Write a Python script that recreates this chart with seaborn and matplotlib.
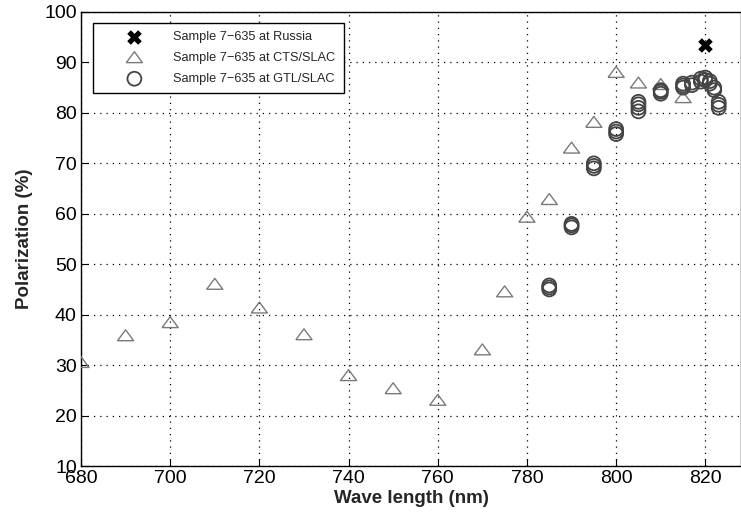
import seaborn as sns
import numpy as np
import pandas as pd
import matplotlib.pyplot as plt

russia_wl = [820]
russia_pol = [93.5]

cts_wl = [680, 690, 700, 710, 720, 730, 740, 750, 760, 770, 775, 780, 785, 790, 795, 800, 805, 810, 815]
cts_pol = [30.5, 35.8, 38.4, 46.0, 41.3, 36.0, 27.9, 25.3, 23.0, 33.0, 44.5, 59.3, 62.8, 73.0, 78.1, 88.0, 85.9, 85.6, 83.0]

gtl_wl = [785, 785, 785, 790, 790, 790, 795, 795, 795, 800, 800, 800,
          805, 805, 805, 805, 810, 810, 810, 815, 815, 815, 817, 817,
          819, 819, 820, 820, 821, 821, 822, 822, 823, 823, 823]
gtl_pol = [45.0, 45.4, 45.8, 57.3, 57.7, 58.0, 69.0, 69.5, 70.0, 75.8, 76.3, 76.8,
           80.3, 81.0, 81.7, 82.2, 83.8, 84.2, 84.5, 85.0, 85.4, 85.8, 85.5, 86.0,
           86.2, 86.8, 86.5, 87.0, 85.8, 86.3, 84.5, 85.0, 81.0, 81.6, 82.2]

xticks = list(range(680, 821, 20))
yticks = list(range(10, 101, 10))

sns.set_style('ticks')
plt.rcParams['font.family'] = ['Liberation Sans', 'DejaVu Sans']

fig = plt.figure(figsize=(7.41, 5.17), dpi=100)
ax = fig.add_axes([0.1093, 0.0986, 0.8907, 0.8782])

# flat open triangle, closed outline
tri = [(-1, -0.6), (1, -0.6), (0, 0.75), (-1, -0.6)]

sns.scatterplot(x=cts_wl, y=cts_pol, ax=ax, marker=tri, s=135, facecolor='none',
                edgecolor='#7a7a7a', linewidth=1.0, label='Sample 7\u2212635 at CTS/SLAC', zorder=3)
sns.scatterplot(x=gtl_wl, y=gtl_pol, ax=ax, marker='o', s=100, facecolor='none',
                edgecolor='#444444', linewidth=1.3, label='Sample 7\u2212635 at GTL/SLAC', zorder=3)
sns.scatterplot(x=russia_wl, y=russia_pol, ax=ax, marker='X', s=110, color='black',
                linewidth=0, label='Sample 7\u2212635 at Russia', zorder=4)

ax.set_xlim(680, 828)
ax.set_ylim(10, 100)
ax.set_xticks(xticks)
ax.set_yticks(yticks)
ax.tick_params(direction='in', length=5, width=0.8, labelsize=14, colors='black', pad=3)
ax.grid(True, color='black', linestyle=(0, (1, 4)), linewidth=0.9)
for sp in ax.spines.values():
    sp.set_linewidth(1.0)
    sp.set_color('black')

ax.set_xlabel('Wave length (nm)', fontsize=13.5, fontweight='bold', labelpad=2)
ax.set_ylabel('Polarization (%)', fontsize=13.5, fontweight='bold', labelpad=8)

h, l = ax.get_legend_handles_labels()
order = [2, 0, 1]
leg = ax.legend([h[i] for i in order], [l[i] for i in order], loc='upper left',
                bbox_to_anchor=(0.018, 0.976), fontsize=9.2, frameon=True, fancybox=False,
                edgecolor='black', framealpha=1, borderpad=0.65, handletextpad=0.45,
                borderaxespad=0, labelspacing=0.7, handlelength=5.2)
leg.get_frame().set_linewidth(1.0)

plt.savefig('out.png', dpi=100)
